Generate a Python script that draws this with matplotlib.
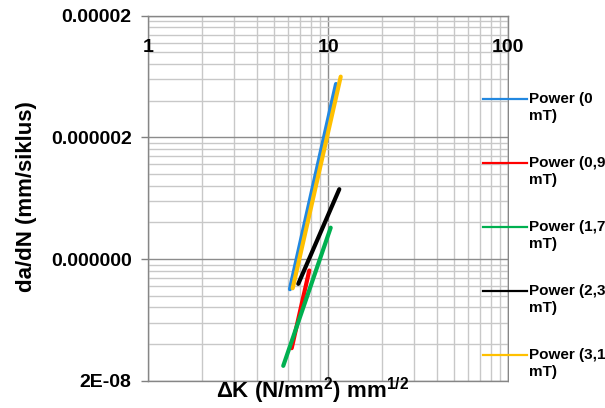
import matplotlib
matplotlib.use("Agg")
import matplotlib.pyplot as plt
from matplotlib.lines import Line2D
import numpy as np

plt.rcParams['font.family'] = ['Liberation Sans', 'DejaVu Sans']
plt.rcParams['mathtext.fontset'] = 'custom'
plt.rcParams['mathtext.rm'] = 'Liberation Sans:bold'
plt.rcParams['mathtext.bf'] = 'Liberation Sans:bold'
plt.rcParams['mathtext.default'] = 'rm'

# ---- data (power trendlines, endpoints) ----
series_names = ["Power (0\nmT)", "Power (0,9\nmT)", "Power (1,7\nmT)", "Power (2,3\nmT)", "Power (3,1\nmT)"]
series_colors = ["#2288E0", "#FF0000", "#00B050", "#000000", "#FFC000"]
dk_start = [6.12, 6.26, 5.62, 6.81, 6.34]
dk_end = [11.04, 7.84, 10.31, 11.51, 11.72]
rate_start = [1.13e-7, 3.70e-8, 2.65e-8, 1.25e-7, 1.15e-7]
rate_end = [5.49e-6, 1.61e-7, 3.62e-7, 7.5e-7, 6.31e-6]

y_ticks = [2e-8, 2e-7, 2e-6, 2e-5]
y_tick_labels = ["2E-08", "0.000000", "0.000002", "0.00002"]
x_ticks = [1, 10, 100]
x_tick_labels = ["1", "10", "100"]

W, H = 605, 408
fig = plt.figure(figsize=(W / 100, H / 100), dpi=100)
ax = fig.add_axes([148.3 / W, 1 - 380.7 / H, 360 / W, 365 / H])
ax.set_xscale('log')
ax.set_yscale('log')
ax.set_xlim(1, 100)
ax.set_ylim(2e-8, 2e-5)

# gridlines
y_minor = [m * k for m in y_ticks[:-1] for k in range(2, 10)]
x_minor = [d * k for d in [1, 10] for k in range(2, 10)]
ax.set_yticks(y_ticks)
ax.set_yticklabels(y_tick_labels, fontsize=14, fontweight='bold')
ax.set_yticks(y_minor, minor=True)
ax.set_xticks(x_ticks)
ax.set_xticks(x_minor, minor=True)
ax.set_xticklabels([])
ax.tick_params(axis='x', which='both', length=0)
ax.tick_params(axis='y', which='major', length=5, width=1, color='#808080', pad=7)
ax.tick_params(axis='y', which='minor', length=0)
ax.yaxis.set_minor_formatter(matplotlib.ticker.NullFormatter())
ax.grid(True, which='major', color='#8C8C8C', linewidth=1.0, zorder=0)
ax.grid(True, which='minor', color='#C8C8C8', linewidth=1.0, zorder=0)
ax.set_axisbelow(True)
for s in ax.spines.values():
    s.set_color('#868686')
    s.set_linewidth(1.0)

# x tick labels drawn inside plot near top
for xv, lab in zip(x_ticks, x_tick_labels):
    ax.text(xv, 0.914, lab, transform=ax.get_xaxis_transform(), ha='center', va='center',
            fontsize=14, fontweight='bold', zorder=5)

# trendlines
for i in range(len(series_names)):
    ax.plot([dk_start[i], dk_end[i]], [rate_start[i], rate_end[i]], color=series_colors[i],
            linewidth=3.0, solid_capstyle='round', zorder=3)

# axis titles
fig.text(27 / W, 1 - 197 / H, "da/dN (mm/siklus)", rotation=90, ha='center', va='center',
         fontsize=16, fontweight='bold')
fig.text(313 / W, 1 - 398.5 / H, r"ΔK (N/mm$^{2}$) mm$^{1/2}$", ha='center', va='baseline',
         fontsize=16, fontweight='bold')

# legend (overlapping right part of plot)
fig.patches.append(plt.Rectangle((509 / W, 0), (W - 509) / W, 1 - 70 / H, transform=fig.transFigure,
                                 facecolor='white', edgecolor='none', zorder=4))
leg_y = [99, 163, 227, 291, 355]
for i, name in enumerate(series_names):
    yy = 1 - leg_y[i] / H
    fig.add_artist(Line2D([483 / W, 527 / W], [yy, yy], transform=fig.transFigure,
                          color=series_colors[i], linewidth=1.6, zorder=6))
    l1, l2 = name.split("\n")
    fig.text(529 / W, yy, l1, ha='left', va='center', fontsize=11, fontweight='bold', zorder=6)
    fig.text(529 / W, 1 - (leg_y[i] + 17) / H, l2, ha='left', va='center', fontsize=11,
             fontweight='bold', zorder=6)

fig.savefig("out.png", dpi=100)
